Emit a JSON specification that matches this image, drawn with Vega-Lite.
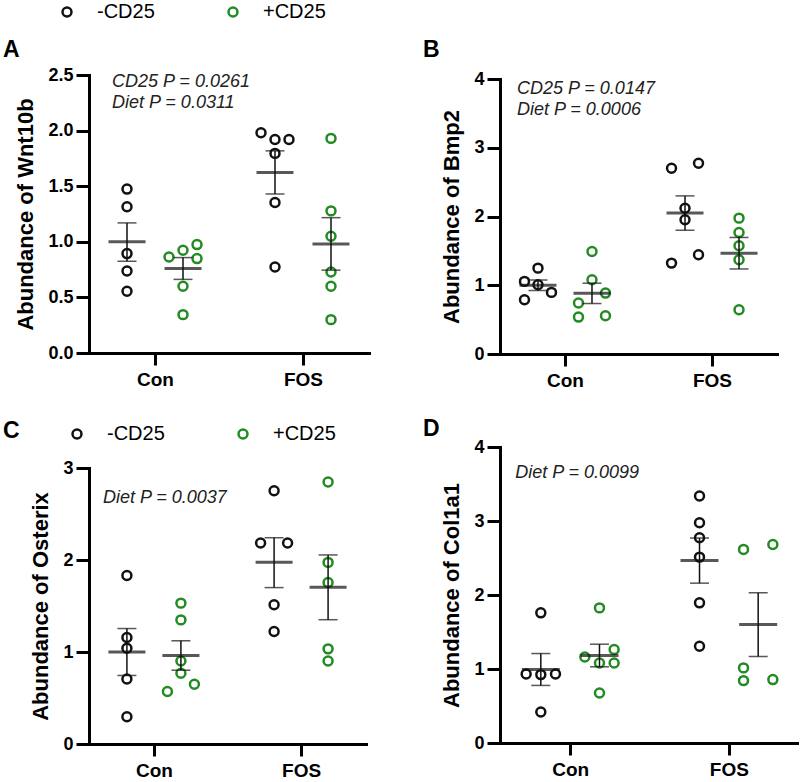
{
  "$schema": "https://vega.github.io/schema/vega-lite/v6.json",
  "padding": {"left": 3, "top": 2, "right": 0, "bottom": 0},
  "background": "white",
  "datasets": {
    "points": [
      {"panel": "A", "diet": "Con", "cd25": "-CD25", "slot": "-C", "v": 1.474},
      {"panel": "A", "diet": "Con", "cd25": "-CD25", "slot": "-C", "v": 1.315},
      {"panel": "A", "diet": "Con", "cd25": "-CD25", "slot": "-C", "v": 0.894},
      {"panel": "A", "diet": "Con", "cd25": "-CD25", "slot": "-C", "v": 0.738},
      {"panel": "A", "diet": "Con", "cd25": "-CD25", "slot": "-C", "v": 0.555},
      {"panel": "A", "diet": "Con", "cd25": "+CD25", "slot": "+L", "v": 0.864},
      {"panel": "A", "diet": "Con", "cd25": "+CD25", "slot": "+C", "v": 0.924},
      {"panel": "A", "diet": "Con", "cd25": "+CD25", "slot": "+R", "v": 0.975},
      {"panel": "A", "diet": "Con", "cd25": "+CD25", "slot": "+R", "v": 0.849},
      {"panel": "A", "diet": "Con", "cd25": "+CD25", "slot": "+C", "v": 0.600},
      {"panel": "A", "diet": "Con", "cd25": "+CD25", "slot": "+C", "v": 0.345},
      {"panel": "A", "diet": "FOS", "cd25": "-CD25", "slot": "-L", "v": 1.98},
      {"panel": "A", "diet": "FOS", "cd25": "-CD25", "slot": "-C", "v": 1.92},
      {"panel": "A", "diet": "FOS", "cd25": "-CD25", "slot": "-R", "v": 1.92},
      {"panel": "A", "diet": "FOS", "cd25": "-CD25", "slot": "-C", "v": 1.795},
      {"panel": "A", "diet": "FOS", "cd25": "-CD25", "slot": "-C", "v": 1.354},
      {"panel": "A", "diet": "FOS", "cd25": "-CD25", "slot": "-C", "v": 0.774},
      {"panel": "A", "diet": "FOS", "cd25": "+CD25", "slot": "+C", "v": 1.93},
      {"panel": "A", "diet": "FOS", "cd25": "+CD25", "slot": "+C", "v": 1.278},
      {"panel": "A", "diet": "FOS", "cd25": "+CD25", "slot": "+C", "v": 1.05},
      {"panel": "A", "diet": "FOS", "cd25": "+CD25", "slot": "+C", "v": 0.729},
      {"panel": "A", "diet": "FOS", "cd25": "+CD25", "slot": "+C", "v": 0.600},
      {"panel": "A", "diet": "FOS", "cd25": "+CD25", "slot": "+C", "v": 0.30},
      {"panel": "B", "diet": "Con", "cd25": "-CD25", "slot": "-C", "v": 1.249},
      {"panel": "B", "diet": "Con", "cd25": "-CD25", "slot": "-L", "v": 1.056},
      {"panel": "B", "diet": "Con", "cd25": "-CD25", "slot": "-C", "v": 1.007},
      {"panel": "B", "diet": "Con", "cd25": "-CD25", "slot": "-R", "v": 0.896},
      {"panel": "B", "diet": "Con", "cd25": "-CD25", "slot": "-L", "v": 0.789},
      {"panel": "B", "diet": "Con", "cd25": "+CD25", "slot": "+C", "v": 1.49},
      {"panel": "B", "diet": "Con", "cd25": "+CD25", "slot": "+C", "v": 1.08},
      {"panel": "B", "diet": "Con", "cd25": "+CD25", "slot": "+L", "v": 0.741},
      {"panel": "B", "diet": "Con", "cd25": "+CD25", "slot": "+R", "v": 0.886},
      {"panel": "B", "diet": "Con", "cd25": "+CD25", "slot": "+L", "v": 0.537},
      {"panel": "B", "diet": "Con", "cd25": "+CD25", "slot": "+R", "v": 0.557},
      {"panel": "B", "diet": "FOS", "cd25": "-CD25", "slot": "-L", "v": 2.702},
      {"panel": "B", "diet": "FOS", "cd25": "-CD25", "slot": "-R", "v": 2.775},
      {"panel": "B", "diet": "FOS", "cd25": "-CD25", "slot": "-C", "v": 2.121},
      {"panel": "B", "diet": "FOS", "cd25": "-CD25", "slot": "-C", "v": 1.952},
      {"panel": "B", "diet": "FOS", "cd25": "-CD25", "slot": "-L", "v": 1.322},
      {"panel": "B", "diet": "FOS", "cd25": "-CD25", "slot": "-R", "v": 1.443},
      {"panel": "B", "diet": "FOS", "cd25": "+CD25", "slot": "+C", "v": 1.976},
      {"panel": "B", "diet": "FOS", "cd25": "+CD25", "slot": "+C", "v": 1.768},
      {"panel": "B", "diet": "FOS", "cd25": "+CD25", "slot": "+C", "v": 1.574},
      {"panel": "B", "diet": "FOS", "cd25": "+CD25", "slot": "+C", "v": 1.370},
      {"panel": "B", "diet": "FOS", "cd25": "+CD25", "slot": "+C", "v": 0.644},
      {"panel": "C", "diet": "Con", "cd25": "-CD25", "slot": "-C", "v": 1.832},
      {"panel": "C", "diet": "Con", "cd25": "-CD25", "slot": "-C", "v": 1.157},
      {"panel": "C", "diet": "Con", "cd25": "-CD25", "slot": "-C", "v": 1.041},
      {"panel": "C", "diet": "Con", "cd25": "-CD25", "slot": "-C", "v": 0.707},
      {"panel": "C", "diet": "Con", "cd25": "-CD25", "slot": "-C", "v": 0.297},
      {"panel": "C", "diet": "Con", "cd25": "+CD25", "slot": "+C", "v": 1.531},
      {"panel": "C", "diet": "Con", "cd25": "+CD25", "slot": "+C", "v": 1.349},
      {"panel": "C", "diet": "Con", "cd25": "+CD25", "slot": "+C", "v": 0.903},
      {"panel": "C", "diet": "Con", "cd25": "+CD25", "slot": "+C", "v": 0.769},
      {"panel": "C", "diet": "Con", "cd25": "+CD25", "slot": "+L", "v": 0.570},
      {"panel": "C", "diet": "Con", "cd25": "+CD25", "slot": "+R", "v": 0.649},
      {"panel": "C", "diet": "FOS", "cd25": "-CD25", "slot": "-C", "v": 2.753},
      {"panel": "C", "diet": "FOS", "cd25": "-CD25", "slot": "-L", "v": 2.184},
      {"panel": "C", "diet": "FOS", "cd25": "-CD25", "slot": "-R", "v": 2.184},
      {"panel": "C", "diet": "FOS", "cd25": "-CD25", "slot": "-C", "v": 1.513},
      {"panel": "C", "diet": "FOS", "cd25": "-CD25", "slot": "-C", "v": 1.222},
      {"panel": "C", "diet": "FOS", "cd25": "+CD25", "slot": "+C", "v": 2.848},
      {"panel": "C", "diet": "FOS", "cd25": "+CD25", "slot": "+C", "v": 1.974},
      {"panel": "C", "diet": "FOS", "cd25": "+CD25", "slot": "+C", "v": 1.756},
      {"panel": "C", "diet": "FOS", "cd25": "+CD25", "slot": "+C", "v": 1.034},
      {"panel": "C", "diet": "FOS", "cd25": "+CD25", "slot": "+C", "v": 0.903},
      {"panel": "D", "diet": "Con", "cd25": "-CD25", "slot": "-C", "v": 1.759},
      {"panel": "D", "diet": "Con", "cd25": "-CD25", "slot": "-L", "v": 0.933},
      {"panel": "D", "diet": "Con", "cd25": "-CD25", "slot": "-C", "v": 0.924},
      {"panel": "D", "diet": "Con", "cd25": "-CD25", "slot": "-R", "v": 0.933},
      {"panel": "D", "diet": "Con", "cd25": "-CD25", "slot": "-C", "v": 0.419},
      {"panel": "D", "diet": "Con", "cd25": "+CD25", "slot": "+C", "v": 1.826},
      {"panel": "D", "diet": "Con", "cd25": "+CD25", "slot": "+L", "v": 1.163},
      {"panel": "D", "diet": "Con", "cd25": "+CD25", "slot": "+R", "v": 1.263},
      {"panel": "D", "diet": "Con", "cd25": "+CD25", "slot": "+C", "v": 1.082},
      {"panel": "D", "diet": "Con", "cd25": "+CD25", "slot": "+R", "v": 1.082},
      {"panel": "D", "diet": "Con", "cd25": "+CD25", "slot": "+C", "v": 0.676},
      {"panel": "D", "diet": "FOS", "cd25": "-CD25", "slot": "-C", "v": 3.337},
      {"panel": "D", "diet": "FOS", "cd25": "-CD25", "slot": "-C", "v": 2.976},
      {"panel": "D", "diet": "FOS", "cd25": "-CD25", "slot": "-C", "v": 2.773},
      {"panel": "D", "diet": "FOS", "cd25": "-CD25", "slot": "-C", "v": 2.512},
      {"panel": "D", "diet": "FOS", "cd25": "-CD25", "slot": "-C", "v": 1.894},
      {"panel": "D", "diet": "FOS", "cd25": "-CD25", "slot": "-C", "v": 1.308},
      {"panel": "D", "diet": "FOS", "cd25": "+CD25", "slot": "+L", "v": 2.616},
      {"panel": "D", "diet": "FOS", "cd25": "+CD25", "slot": "+R", "v": 2.683},
      {"panel": "D", "diet": "FOS", "cd25": "+CD25", "slot": "+L", "v": 1.015},
      {"panel": "D", "diet": "FOS", "cd25": "+CD25", "slot": "+L", "v": 0.843},
      {"panel": "D", "diet": "FOS", "cd25": "+CD25", "slot": "+R", "v": 0.857}
    ],
    "summary": [
      {"panel": "A", "diet": "Con", "cd25": "-CD25", "slot": "-C", "mean": 1.0, "lo": 0.825, "hi": 1.17},
      {"panel": "A", "diet": "Con", "cd25": "+CD25", "slot": "+C", "mean": 0.76, "lo": 0.662, "hi": 0.858},
      {"panel": "A", "diet": "FOS", "cd25": "-CD25", "slot": "-C", "mean": 1.624, "lo": 1.43, "hi": 1.818},
      {"panel": "A", "diet": "FOS", "cd25": "+CD25", "slot": "+C", "mean": 0.981, "lo": 0.745, "hi": 1.217},
      {"panel": "B", "diet": "Con", "cd25": "-CD25", "slot": "-C", "mean": 0.999, "lo": 0.922, "hi": 1.077},
      {"panel": "B", "diet": "Con", "cd25": "+CD25", "slot": "+C", "mean": 0.882, "lo": 0.734, "hi": 1.03},
      {"panel": "B", "diet": "FOS", "cd25": "-CD25", "slot": "-C", "mean": 2.05, "lo": 1.8, "hi": 2.3},
      {"panel": "B", "diet": "FOS", "cd25": "+CD25", "slot": "+C", "mean": 1.466, "lo": 1.237, "hi": 1.695},
      {"panel": "C", "diet": "Con", "cd25": "-CD25", "slot": "-C", "mean": 1.0, "lo": 0.745, "hi": 1.255},
      {"panel": "C", "diet": "Con", "cd25": "+CD25", "slot": "+C", "mean": 0.962, "lo": 0.802, "hi": 1.122},
      {"panel": "C", "diet": "FOS", "cd25": "-CD25", "slot": "-C", "mean": 1.975, "lo": 1.7, "hi": 2.242},
      {"panel": "C", "diet": "FOS", "cd25": "+CD25", "slot": "+C", "mean": 1.703, "lo": 1.351, "hi": 2.055},
      {"panel": "D", "diet": "Con", "cd25": "-CD25", "slot": "-C", "mean": 0.994, "lo": 0.778, "hi": 1.209},
      {"panel": "D", "diet": "Con", "cd25": "+CD25", "slot": "+C", "mean": 1.182, "lo": 1.03, "hi": 1.335},
      {"panel": "D", "diet": "FOS", "cd25": "-CD25", "slot": "-C", "mean": 2.467, "lo": 2.16, "hi": 2.77},
      {"panel": "D", "diet": "FOS", "cd25": "+CD25", "slot": "+C", "mean": 1.603, "lo": 1.17, "hi": 2.03}
    ],
    "notes": [
      {"panel": "A", "note": "CD25 P = 0.0261\nDiet P = 0.0311"},
      {"panel": "B", "note": "CD25 P = 0.0147\nDiet P = 0.0006"},
      {"panel": "C", "note": "Diet P = 0.0037"},
      {"panel": "D", "note": "Diet P = 0.0099"}
    ]
  },
  "spacing": 54,
  "resolve": {"scale": {"color": "independent", "x": "independent", "y": "independent", "xOffset": "independent"}, "legend": {"color": "independent"}},
  "hconcat": [
    {
      "bounds": "flush",
      "spacing": 115,
      "resolve": {"scale": {"color": "independent", "x": "independent", "y": "independent", "xOffset": "independent"}, "legend": {"color": "independent"}},
      "vconcat": [
        {
          "width": 280, "height": 278,
          "title": {"text": "A", "anchor": "start", "frame": "group", "dx": -86, "offset": -78, "baseline": "alphabetic", "fontSize": 23, "fontWeight": "bold", "color": "#000", "font": "Liberation Sans"},
          "layer": [
            {
              "data": {"name": "points"},
              "transform": [{"filter": "datum.panel === 'A'"}],
              "mark": {"type": "point", "shape": "circle", "filled": false, "size": 80, "strokeWidth": 2.5, "opacity": 1},
              "encoding": {
                "x": {"field": "diet", "type": "nominal", "scale": {"type": "point", "domain": ["Con", "FOS"], "padding": 0.446}, "axis": {"title": null}},
                "xOffset": {"field": "slot", "type": "nominal", "scale": {"type": "point", "domain": ["-L", "-C", "-R", "gap", "+L", "+C", "+R"], "range": [-42, 42], "padding": 0}},
                "y": {"field": "v", "type": "quantitative", "scale": {"domain": [0, 2.5], "nice": false, "zero": true}, "axis": {"title": "Abundance of Wnt10b", "values": [0, 0.5, 1, 1.5, 2, 2.5], "format": ".1f"}},
                "color": {"field": "cd25", "type": "nominal", "scale": {"domain": ["-CD25", "+CD25"], "range": ["#111111", "#228B22"]},
                  "legend": {"title": null, "orient": "none", "legendX": -32, "legendY": -73, "direction": "horizontal", "labelFontSize": 20, "labelFont": "Liberation Sans", "labelColor": "#000", "symbolSize": 80, "symbolStrokeWidth": 2.5, "labelOffset": 20, "columnPadding": 68, "symbolType": "circle"}}
              }
            },
            {
              "data": {"name": "summary"},
              "transform": [{"filter": "datum.panel === 'A'"}],
              "mark": {"type": "rule", "strokeWidth": 1.5, "color": "#111111"},
              "encoding": {
                "x": {"field": "diet", "type": "nominal", "scale": {"type": "point", "domain": ["Con", "FOS"], "padding": 0.446}},
                "xOffset": {"field": "slot", "type": "nominal", "scale": {"type": "point", "domain": ["-L", "-C", "-R", "gap", "+L", "+C", "+R"], "range": [-42, 42], "padding": 0}},
                "y": {"field": "lo", "type": "quantitative", "scale": {"domain": [0, 2.5], "nice": false}},
                "y2": {"field": "hi"}
              }
            },
            {
              "data": {"name": "summary"},
              "transform": [{"filter": "datum.panel === 'A'"}],
              "mark": {"type": "tick", "orient": "horizontal", "size": 19, "thickness": 1.5, "color": "#111111"},
              "encoding": {
                "x": {"field": "diet", "type": "nominal", "scale": {"type": "point", "domain": ["Con", "FOS"], "padding": 0.446}},
                "xOffset": {"field": "slot", "type": "nominal", "scale": {"type": "point", "domain": ["-L", "-C", "-R", "gap", "+L", "+C", "+R"], "range": [-42, 42], "padding": 0}},
                "y": {"field": "lo", "type": "quantitative", "scale": {"domain": [0, 2.5], "nice": false}}
              }
            },
            {
              "data": {"name": "summary"},
              "transform": [{"filter": "datum.panel === 'A'"}],
              "mark": {"type": "tick", "orient": "horizontal", "size": 19, "thickness": 1.5, "color": "#111111"},
              "encoding": {
                "x": {"field": "diet", "type": "nominal", "scale": {"type": "point", "domain": ["Con", "FOS"], "padding": 0.446}},
                "xOffset": {"field": "slot", "type": "nominal", "scale": {"type": "point", "domain": ["-L", "-C", "-R", "gap", "+L", "+C", "+R"], "range": [-42, 42], "padding": 0}},
                "y": {"field": "hi", "type": "quantitative", "scale": {"domain": [0, 2.5], "nice": false}}
              }
            },
            {
              "data": {"name": "summary"},
              "transform": [{"filter": "datum.panel === 'A'"}],
              "mark": {"type": "tick", "orient": "horizontal", "size": 37, "thickness": 3, "color": "#111111"},
              "encoding": {
                "x": {"field": "diet", "type": "nominal", "scale": {"type": "point", "domain": ["Con", "FOS"], "padding": 0.446}},
                "xOffset": {"field": "slot", "type": "nominal", "scale": {"type": "point", "domain": ["-L", "-C", "-R", "gap", "+L", "+C", "+R"], "range": [-42, 42], "padding": 0}},
                "y": {"field": "mean", "type": "quantitative", "scale": {"domain": [0, 2.5], "nice": false}}
              }
            },
            {
              "data": {"name": "notes"},
              "transform": [{"filter": "datum.panel === 'A'"}],
              "mark": {"type": "text", "align": "left", "baseline": "alphabetic", "font": "Liberation Sans", "fontStyle": "italic", "fontSize": 18, "lineHeight": 21, "lineBreak": "\n", "color": "#222222", "dx": -43},
              "encoding": {
                "x": {"datum": "Con", "scale": {"type": "point", "domain": ["Con", "FOS"], "padding": 0.446}},
                "y": {"datum": 2.392, "type": "quantitative", "scale": {"domain": [0, 2.5], "nice": false}},
                "text": {"field": "note"}
              }
            }
          ]
        },
        {
          "width": 277, "height": 276,
          "title": {"text": "C", "anchor": "start", "frame": "group", "dx": -86, "offset": -37, "baseline": "alphabetic", "fontSize": 23, "fontWeight": "bold", "color": "#000", "font": "Liberation Sans"},
          "layer": [
            {
              "data": {"name": "points"},
              "transform": [{"filter": "datum.panel === 'C'"}],
              "mark": {"type": "point", "shape": "circle", "filled": false, "size": 80, "strokeWidth": 2.5, "opacity": 1},
              "encoding": {
                "x": {"field": "diet", "type": "nominal", "scale": {"type": "point", "domain": ["Con", "FOS"], "padding": 0.441}, "axis": {"title": null}},
                "xOffset": {"field": "slot", "type": "nominal", "scale": {"type": "point", "domain": ["-L", "-C", "-R", "gap", "+L", "+C", "+R"], "range": [-40.5, 40.5], "padding": 0}},
                "y": {"field": "v", "type": "quantitative", "scale": {"domain": [0, 3], "nice": false, "zero": true}, "axis": {"title": "Abundance of Osterix", "values": [0, 1, 2, 3], "format": "d"}},
                "color": {"field": "cd25", "type": "nominal", "scale": {"domain": ["-CD25", "+CD25"], "range": ["#111111", "#228B22"]},
                  "legend": {"title": null, "orient": "none", "legendX": -22, "legendY": -44, "direction": "horizontal", "labelFontSize": 20, "labelFont": "Liberation Sans", "labelColor": "#000", "symbolSize": 80, "symbolStrokeWidth": 2.5, "labelOffset": 20, "columnPadding": 68, "symbolType": "circle"}}
              }
            },
            {
              "data": {"name": "summary"},
              "transform": [{"filter": "datum.panel === 'C'"}],
              "mark": {"type": "rule", "strokeWidth": 1.5, "color": "#111111"},
              "encoding": {
                "x": {"field": "diet", "type": "nominal", "scale": {"type": "point", "domain": ["Con", "FOS"], "padding": 0.441}},
                "xOffset": {"field": "slot", "type": "nominal", "scale": {"type": "point", "domain": ["-L", "-C", "-R", "gap", "+L", "+C", "+R"], "range": [-40.5, 40.5], "padding": 0}},
                "y": {"field": "lo", "type": "quantitative", "scale": {"domain": [0, 3], "nice": false}},
                "y2": {"field": "hi"}
              }
            },
            {
              "data": {"name": "summary"},
              "transform": [{"filter": "datum.panel === 'C'"}],
              "mark": {"type": "tick", "orient": "horizontal", "size": 19, "thickness": 1.5, "color": "#111111"},
              "encoding": {
                "x": {"field": "diet", "type": "nominal", "scale": {"type": "point", "domain": ["Con", "FOS"], "padding": 0.441}},
                "xOffset": {"field": "slot", "type": "nominal", "scale": {"type": "point", "domain": ["-L", "-C", "-R", "gap", "+L", "+C", "+R"], "range": [-40.5, 40.5], "padding": 0}},
                "y": {"field": "lo", "type": "quantitative", "scale": {"domain": [0, 3], "nice": false}}
              }
            },
            {
              "data": {"name": "summary"},
              "transform": [{"filter": "datum.panel === 'C'"}],
              "mark": {"type": "tick", "orient": "horizontal", "size": 19, "thickness": 1.5, "color": "#111111"},
              "encoding": {
                "x": {"field": "diet", "type": "nominal", "scale": {"type": "point", "domain": ["Con", "FOS"], "padding": 0.441}},
                "xOffset": {"field": "slot", "type": "nominal", "scale": {"type": "point", "domain": ["-L", "-C", "-R", "gap", "+L", "+C", "+R"], "range": [-40.5, 40.5], "padding": 0}},
                "y": {"field": "hi", "type": "quantitative", "scale": {"domain": [0, 3], "nice": false}}
              }
            },
            {
              "data": {"name": "summary"},
              "transform": [{"filter": "datum.panel === 'C'"}],
              "mark": {"type": "tick", "orient": "horizontal", "size": 37, "thickness": 3, "color": "#111111"},
              "encoding": {
                "x": {"field": "diet", "type": "nominal", "scale": {"type": "point", "domain": ["Con", "FOS"], "padding": 0.441}},
                "xOffset": {"field": "slot", "type": "nominal", "scale": {"type": "point", "domain": ["-L", "-C", "-R", "gap", "+L", "+C", "+R"], "range": [-40.5, 40.5], "padding": 0}},
                "y": {"field": "mean", "type": "quantitative", "scale": {"domain": [0, 3], "nice": false}}
              }
            },
            {
              "data": {"name": "notes"},
              "transform": [{"filter": "datum.panel === 'C'"}],
              "mark": {"type": "text", "align": "left", "baseline": "alphabetic", "font": "Liberation Sans", "fontStyle": "italic", "fontSize": 18, "lineHeight": 21, "lineBreak": "\n", "color": "#222222", "dx": -51},
              "encoding": {
                "x": {"datum": "Con", "scale": {"type": "point", "domain": ["Con", "FOS"], "padding": 0.441}},
                "y": {"datum": 2.619, "type": "quantitative", "scale": {"domain": [0, 3], "nice": false}},
                "text": {"field": "note"}
              }
            }
          ]
        }
      ]
    },
    {
      "bounds": "flush",
      "spacing": 93,
      "resolve": {"scale": {"color": "independent", "x": "independent", "y": "independent", "xOffset": "independent"}, "legend": {"color": "independent"}},
      "vconcat": [
        {
          "width": 277, "height": 279,
          "title": {"text": "B", "anchor": "start", "frame": "group", "dx": -77, "offset": -10, "baseline": "alphabetic", "fontSize": 23, "fontWeight": "bold", "color": "#000", "font": "Liberation Sans"},
          "layer": [
            {
              "data": {"name": "points"},
              "transform": [{"filter": "datum.panel === 'B'"}],
              "mark": {"type": "point", "shape": "circle", "filled": false, "size": 80, "strokeWidth": 2.5, "opacity": 1},
              "encoding": {
                "x": {"field": "diet", "type": "nominal", "scale": {"type": "point", "domain": ["Con", "FOS"], "padding": 0.442}, "axis": {"title": null}},
                "xOffset": {"field": "slot", "type": "nominal", "scale": {"type": "point", "domain": ["-L", "-C", "-R", "gap", "+L", "+C", "+R"], "range": [-40.5, 40.5], "padding": 0}},
                "y": {"field": "v", "type": "quantitative", "scale": {"domain": [0, 4], "range": [279, 4], "nice": false, "zero": true}, "axis": {"title": "Abundance of Bmp2", "values": [0, 1, 2, 3, 4], "format": "d"}},
                "color": {"field": "cd25", "type": "nominal", "scale": {"domain": ["-CD25", "+CD25"], "range": ["#111111", "#228B22"]}, "legend": null}
              }
            },
            {
              "data": {"name": "summary"},
              "transform": [{"filter": "datum.panel === 'B'"}],
              "mark": {"type": "rule", "strokeWidth": 1.5, "color": "#111111"},
              "encoding": {
                "x": {"field": "diet", "type": "nominal", "scale": {"type": "point", "domain": ["Con", "FOS"], "padding": 0.442}},
                "xOffset": {"field": "slot", "type": "nominal", "scale": {"type": "point", "domain": ["-L", "-C", "-R", "gap", "+L", "+C", "+R"], "range": [-40.5, 40.5], "padding": 0}},
                "y": {"field": "lo", "type": "quantitative", "scale": {"domain": [0, 4], "range": [279, 4], "nice": false}},
                "y2": {"field": "hi"}
              }
            },
            {
              "data": {"name": "summary"},
              "transform": [{"filter": "datum.panel === 'B'"}],
              "mark": {"type": "tick", "orient": "horizontal", "size": 19, "thickness": 1.5, "color": "#111111"},
              "encoding": {
                "x": {"field": "diet", "type": "nominal", "scale": {"type": "point", "domain": ["Con", "FOS"], "padding": 0.442}},
                "xOffset": {"field": "slot", "type": "nominal", "scale": {"type": "point", "domain": ["-L", "-C", "-R", "gap", "+L", "+C", "+R"], "range": [-40.5, 40.5], "padding": 0}},
                "y": {"field": "lo", "type": "quantitative", "scale": {"domain": [0, 4], "range": [279, 4], "nice": false}}
              }
            },
            {
              "data": {"name": "summary"},
              "transform": [{"filter": "datum.panel === 'B'"}],
              "mark": {"type": "tick", "orient": "horizontal", "size": 19, "thickness": 1.5, "color": "#111111"},
              "encoding": {
                "x": {"field": "diet", "type": "nominal", "scale": {"type": "point", "domain": ["Con", "FOS"], "padding": 0.442}},
                "xOffset": {"field": "slot", "type": "nominal", "scale": {"type": "point", "domain": ["-L", "-C", "-R", "gap", "+L", "+C", "+R"], "range": [-40.5, 40.5], "padding": 0}},
                "y": {"field": "hi", "type": "quantitative", "scale": {"domain": [0, 4], "range": [279, 4], "nice": false}}
              }
            },
            {
              "data": {"name": "summary"},
              "transform": [{"filter": "datum.panel === 'B'"}],
              "mark": {"type": "tick", "orient": "horizontal", "size": 37, "thickness": 3, "color": "#111111"},
              "encoding": {
                "x": {"field": "diet", "type": "nominal", "scale": {"type": "point", "domain": ["Con", "FOS"], "padding": 0.442}},
                "xOffset": {"field": "slot", "type": "nominal", "scale": {"type": "point", "domain": ["-L", "-C", "-R", "gap", "+L", "+C", "+R"], "range": [-40.5, 40.5], "padding": 0}},
                "y": {"field": "mean", "type": "quantitative", "scale": {"domain": [0, 4], "range": [279, 4], "nice": false}}
              }
            },
            {
              "data": {"name": "notes"},
              "transform": [{"filter": "datum.panel === 'B'"}],
              "mark": {"type": "text", "align": "left", "baseline": "alphabetic", "font": "Liberation Sans", "fontStyle": "italic", "fontSize": 18, "lineHeight": 21, "lineBreak": "\n", "color": "#222222", "dx": -48},
              "encoding": {
                "x": {"datum": "Con", "scale": {"type": "point", "domain": ["Con", "FOS"], "padding": 0.442}},
                "y": {"datum": 3.778, "type": "quantitative", "scale": {"domain": [0, 4], "range": [279, 4], "nice": false}},
                "text": {"field": "note"}
              }
            }
          ]
        },
        {
          "width": 299, "height": 296,
          "title": {"text": "D", "anchor": "start", "frame": "group", "dx": -77, "offset": -21, "baseline": "alphabetic", "fontSize": 23, "fontWeight": "bold", "color": "#000", "font": "Liberation Sans"},
          "layer": [
            {
              "data": {"name": "points"},
              "transform": [{"filter": "datum.panel === 'D'"}],
              "mark": {"type": "point", "shape": "circle", "filled": false, "size": 80, "strokeWidth": 2.5, "opacity": 1},
              "encoding": {
                "x": {"field": "diet", "type": "nominal", "scale": {"type": "point", "domain": ["Con", "FOS"], "padding": 0.442}, "axis": {"title": null}},
                "xOffset": {"field": "slot", "type": "nominal", "scale": {"type": "point", "domain": ["-L", "-C", "-R", "gap", "+L", "+C", "+R"], "range": [-44, 44], "padding": 0}},
                "y": {"field": "v", "type": "quantitative", "scale": {"domain": [0, 4], "nice": false, "zero": true}, "axis": {"title": "Abundance of Col1a1", "values": [0, 1, 2, 3, 4], "format": "d"}},
                "color": {"field": "cd25", "type": "nominal", "scale": {"domain": ["-CD25", "+CD25"], "range": ["#111111", "#228B22"]}, "legend": null}
              }
            },
            {
              "data": {"name": "summary"},
              "transform": [{"filter": "datum.panel === 'D'"}],
              "mark": {"type": "rule", "strokeWidth": 1.5, "color": "#111111"},
              "encoding": {
                "x": {"field": "diet", "type": "nominal", "scale": {"type": "point", "domain": ["Con", "FOS"], "padding": 0.442}},
                "xOffset": {"field": "slot", "type": "nominal", "scale": {"type": "point", "domain": ["-L", "-C", "-R", "gap", "+L", "+C", "+R"], "range": [-44, 44], "padding": 0}},
                "y": {"field": "lo", "type": "quantitative", "scale": {"domain": [0, 4], "nice": false}},
                "y2": {"field": "hi"}
              }
            },
            {
              "data": {"name": "summary"},
              "transform": [{"filter": "datum.panel === 'D'"}],
              "mark": {"type": "tick", "orient": "horizontal", "size": 19, "thickness": 1.5, "color": "#111111"},
              "encoding": {
                "x": {"field": "diet", "type": "nominal", "scale": {"type": "point", "domain": ["Con", "FOS"], "padding": 0.442}},
                "xOffset": {"field": "slot", "type": "nominal", "scale": {"type": "point", "domain": ["-L", "-C", "-R", "gap", "+L", "+C", "+R"], "range": [-44, 44], "padding": 0}},
                "y": {"field": "lo", "type": "quantitative", "scale": {"domain": [0, 4], "nice": false}}
              }
            },
            {
              "data": {"name": "summary"},
              "transform": [{"filter": "datum.panel === 'D'"}],
              "mark": {"type": "tick", "orient": "horizontal", "size": 19, "thickness": 1.5, "color": "#111111"},
              "encoding": {
                "x": {"field": "diet", "type": "nominal", "scale": {"type": "point", "domain": ["Con", "FOS"], "padding": 0.442}},
                "xOffset": {"field": "slot", "type": "nominal", "scale": {"type": "point", "domain": ["-L", "-C", "-R", "gap", "+L", "+C", "+R"], "range": [-44, 44], "padding": 0}},
                "y": {"field": "hi", "type": "quantitative", "scale": {"domain": [0, 4], "nice": false}}
              }
            },
            {
              "data": {"name": "summary"},
              "transform": [{"filter": "datum.panel === 'D'"}],
              "mark": {"type": "tick", "orient": "horizontal", "size": 38, "thickness": 3, "color": "#111111"},
              "encoding": {
                "x": {"field": "diet", "type": "nominal", "scale": {"type": "point", "domain": ["Con", "FOS"], "padding": 0.442}},
                "xOffset": {"field": "slot", "type": "nominal", "scale": {"type": "point", "domain": ["-L", "-C", "-R", "gap", "+L", "+C", "+R"], "range": [-44, 44], "padding": 0}},
                "y": {"field": "mean", "type": "quantitative", "scale": {"domain": [0, 4], "nice": false}}
              }
            },
            {
              "data": {"name": "notes"},
              "transform": [{"filter": "datum.panel === 'D'"}],
              "mark": {"type": "text", "align": "left", "baseline": "alphabetic", "font": "Liberation Sans", "fontStyle": "italic", "fontSize": 18, "lineHeight": 21, "lineBreak": "\n", "color": "#222222", "dx": -55},
              "encoding": {
                "x": {"datum": "Con", "scale": {"type": "point", "domain": ["Con", "FOS"], "padding": 0.442}},
                "y": {"datum": 3.576, "type": "quantitative", "scale": {"domain": [0, 4], "nice": false}},
                "text": {"field": "note"}
              }
            }
          ]
        }
      ]
    }
  ],
  "config": {
    "view": {"stroke": null},
    "font": "Liberation Sans",
    "axis": {"domainColor": "#000", "domainWidth": 3, "domainCap": "square", "tickColor": "#000", "tickWidth": 3, "labelFont": "Liberation Sans", "labelFontWeight": "bold", "labelColor": "#000", "titleFont": "Liberation Sans", "titleFontWeight": "bold", "titleFontSize": 22, "titleColor": "#000", "grid": false},
    "axisX": {"labelFontSize": 19, "labelPadding": 5, "labelAngle": 0, "tickSize": 12},
    "axisY": {"labelFontSize": 18, "labelPadding": 3, "tickSize": 13, "titlePadding": 10}
  }
}
